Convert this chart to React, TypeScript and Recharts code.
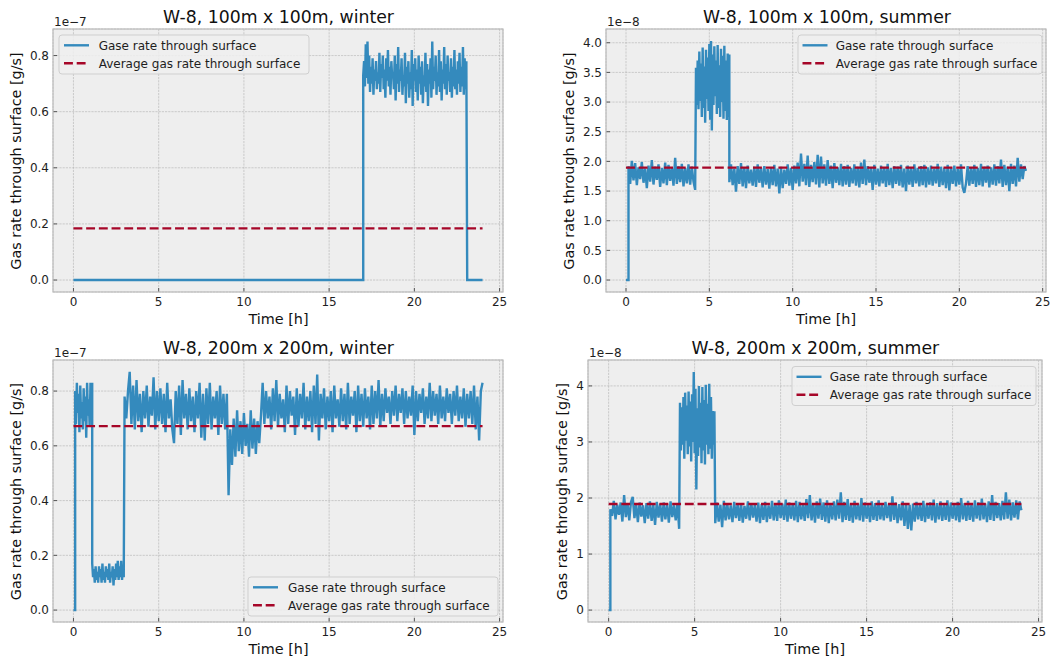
import React from 'react';
import { LineChart, Line, XAxis, YAxis, CartesianGrid } from 'recharts';

const FONT = '"DejaVu Sans", "Liberation Sans", sans-serif';
const BLUE = '#348ABD';
const RED = '#A60628';
const TXT = '#1e1e1e';

const xTicks = [0, 5, 10, 15, 20, 25];
const yTicksW = [0, 0.2, 0.4, 0.6, 0.8];
const yTicksS100 = [0, 0.5, 1.0, 1.5, 2.0, 2.5, 3.0, 3.5, 4.0];
const yTicksS200 = [0, 1, 2, 3, 4];

const titles = [
  'W-8, 100m x 100m, winter',
  'W-8, 100m x 100m, summer',
  'W-8, 200m x 200m, winter',
  'W-8, 200m x 200m, summer',
];
const offsets = ['1e\u22127', '1e\u22128', '1e\u22127', '1e\u22128'];
const legendLabels = ['Gase rate through surface', 'Average gas rate through surface'];
const averages = [0.184, 1.895, 0.672, 1.892];

type Seg = { start: number; step: number; values: number[] };

// ---------- W-8, 100m x 100m, winter (x 1e-7) ----------
const w100Zero1: Seg = { start: 0, step: 17.0, values: [0, 0] };
const w100Band: Seg = {
  start: 17.0,
  step: 0.05,
  values: [
    0.73,
    0.78, 0.69, 0.84, 0.72, 0.85, 0.70, 0.80, 0.67, 0.76, 0.70,
    0.79, 0.66, 0.75, 0.71, 0.78, 0.68, 0.74, 0.70, 0.81, 0.67,
    0.77, 0.72, 0.80, 0.68, 0.75, 0.65, 0.79, 0.71, 0.82, 0.69,
    0.76, 0.66, 0.78, 0.72, 0.74, 0.68, 0.80, 0.64, 0.77, 0.70,
    0.83, 0.67, 0.75, 0.71, 0.79, 0.66, 0.73, 0.69, 0.81, 0.63,
    0.76, 0.70, 0.78, 0.65, 0.74, 0.68, 0.82, 0.62, 0.77, 0.71,
    0.79, 0.67, 0.75, 0.64, 0.80, 0.70, 0.76, 0.66, 0.78, 0.63,
    0.73, 0.69, 0.81, 0.67, 0.77, 0.62, 0.75, 0.70, 0.79, 0.65,
    0.85, 0.68, 0.76, 0.71, 0.80, 0.66, 0.74, 0.69, 0.82, 0.67,
    0.78, 0.64, 0.75, 0.70, 0.83, 0.68, 0.77, 0.66, 0.80, 0.71,
    0.74, 0.67, 0.79, 0.65, 0.76, 0.69, 0.82, 0.68, 0.75, 0.66,
    0.78, 0.70, 0.81, 0.67, 0.76, 0.69, 0.83, 0.66, 0.79, 0.68,
    0.78,
  ],
};
const w100Zero2: Seg = { start: 23.1, step: 0.9, values: [0, 0] };

// ---------- W-8, 100m x 100m, summer (x 1e-8) ----------
const s100Zero: Seg = { start: 0, step: 0.15, values: [0, 0] };
const s100BandA: Seg = {
  start: 0.15,
  step: 0.1,
  values: [
    1.92, 1.62, 2.01, 1.68, 1.97, 1.60, 1.90, 1.70, 1.99, 1.64,
    1.88, 1.55, 1.93, 1.66, 2.02, 1.61, 1.91, 1.69, 1.95, 1.57,
    1.89, 1.63, 1.98, 1.60, 1.94, 1.67, 1.90, 1.59, 2.06, 1.62,
    1.92, 1.65, 1.96, 1.58, 1.89, 1.63, 1.95, 1.61, 1.91, 1.66,
    1.52,
  ],
};
const s100BandB: Seg = {
  start: 4.2,
  step: 0.05,
  values: [
    3.58, 2.95, 3.70, 2.88, 3.85, 3.02, 3.65, 2.75, 3.92, 2.90,
    3.60, 2.65, 3.88, 3.05, 3.75, 2.85, 3.98, 2.70, 4.03, 2.52,
    3.80, 2.95, 3.94, 3.10, 3.70, 2.80, 3.96, 2.90, 3.62, 2.75,
    3.90, 3.00, 3.78, 2.72, 3.95, 2.85, 3.70, 2.70, 3.82, 2.75,
    3.80,
  ],
};
const s100BandC: Seg = {
  start: 6.2,
  step: 0.1,
  values: [
    1.65, 1.95, 1.60, 1.88, 1.49, 1.92, 1.62, 1.97, 1.58, 1.90,
    1.55, 1.93, 1.63, 1.86, 1.59, 1.91, 1.57, 1.95, 1.64, 1.89,
    1.56, 1.92, 1.61, 1.87, 1.54, 1.90, 1.60, 1.94, 1.58, 1.88,
    1.46, 1.91, 1.55, 1.86, 1.62, 1.95, 1.59, 1.89, 1.52, 1.93,
    1.63, 1.98, 1.58, 2.13, 1.66, 1.96, 1.60, 2.10, 1.57, 1.94,
    1.65, 1.99, 1.61, 2.11, 1.56, 2.08, 1.63, 1.95, 1.59, 2.02,
    1.62, 1.93, 1.55, 1.97, 1.64, 1.90, 1.60, 1.96, 1.58, 1.92,
    1.61, 1.94, 1.57, 1.89, 1.63, 1.95, 1.59, 1.91, 1.56, 1.98,
    1.62, 2.03, 1.60, 1.92, 1.64, 1.90, 1.52, 1.94, 1.61, 1.88,
    1.58, 1.93, 1.63, 1.90, 1.57, 1.96, 1.60, 1.89, 1.55, 1.92,
    1.62, 1.91, 1.59, 1.94, 1.56, 1.88, 1.50, 1.93, 1.61, 1.90,
    1.57, 1.95, 1.63, 1.89, 1.58, 1.92, 1.60, 1.94, 1.56, 1.90,
    1.61, 1.93, 1.59, 1.88, 1.63, 1.96, 1.57, 1.91, 1.60, 1.89,
    1.55, 1.94, 1.51, 1.90, 1.62, 1.93, 1.58, 1.88, 1.61, 1.95,
    1.56, 1.47, 1.63, 1.92, 1.59, 1.90, 1.62, 1.94, 1.57, 1.89,
    1.60, 1.96, 1.58, 1.91, 1.64, 1.93, 1.56, 1.90, 1.61, 1.95,
    1.59, 1.92, 1.63, 2.03, 1.57, 1.94, 1.60, 1.91, 1.50, 1.96,
    1.62, 1.93, 1.58, 2.06, 1.66, 1.95, 1.70, 1.92, 1.84,
  ],
};

// ---------- W-8, 200m x 200m, winter (x 1e-7) ----------
const w200Zero: Seg = { start: 0, step: 0.1, values: [0, 0] };
const w200BandA: Seg = {
  start: 0.1,
  step: 0.05,
  values: [
    0.80, 0.68, 0.83, 0.72, 0.79, 0.65, 0.82, 0.70, 0.76, 0.66,
    0.81, 0.69, 0.78, 0.63, 0.83, 0.71, 0.77, 0.67, 0.83, 0.73,
    0.83,
  ],
};
const w200BandB: Seg = {
  start: 1.1,
  step: 0.05,
  values: [
    0.17, 0.12, 0.15, 0.10, 0.16, 0.11, 0.14, 0.10, 0.16, 0.12,
    0.15, 0.10, 0.17, 0.11, 0.14, 0.10, 0.16, 0.12, 0.15, 0.11,
    0.17, 0.10, 0.14, 0.12, 0.16, 0.09, 0.15, 0.11, 0.17, 0.12,
    0.18, 0.11, 0.16, 0.12, 0.18, 0.11, 0.15, 0.12,
  ],
};
const w200BandC: Seg = {
  start: 3.0,
  step: 0.1,
  values: [
    0.78, 0.70, 0.80, 0.87, 0.68, 0.82, 0.66, 0.84, 0.69, 0.79,
    0.65, 0.80, 0.70, 0.82, 0.67, 0.78, 0.71, 0.85, 0.66, 0.80,
    0.69, 0.81, 0.68, 0.79, 0.65, 0.83, 0.70, 0.77, 0.66, 0.61,
    0.80, 0.68, 0.82, 0.64, 0.84, 0.70, 0.79, 0.66, 0.81, 0.69,
    0.78, 0.65, 0.80, 0.70, 0.83, 0.63, 0.79, 0.62, 0.81, 0.68,
    0.83, 0.66, 0.78, 0.70, 0.80, 0.64, 0.82, 0.68, 0.79, 0.66,
    0.79,
  ],
};
const w200BandD: Seg = {
  start: 9.1,
  step: 0.1,
  values: [
    0.42, 0.66, 0.53, 0.70, 0.56, 0.73, 0.58, 0.69, 0.57, 0.72,
    0.60, 0.68, 0.56, 0.73, 0.59, 0.70, 0.57, 0.69, 0.61, 0.71,
  ],
};
const w200BandE: Seg = {
  start: 11.1,
  step: 0.1,
  values: [
    0.83, 0.68, 0.80, 0.70, 0.78, 0.66, 0.81, 0.69, 0.84, 0.67,
    0.79, 0.70, 0.77, 0.65, 0.82, 0.68, 0.80, 0.71, 0.78, 0.64,
    0.81, 0.67, 0.79, 0.70, 0.83, 0.66, 0.78, 0.69, 0.80, 0.65,
    0.82, 0.68, 0.86, 0.62, 0.79, 0.70, 0.81, 0.66, 0.78, 0.69,
    0.80, 0.65, 0.82, 0.70, 0.77, 0.67, 0.81, 0.69, 0.79, 0.66,
    0.83, 0.68, 0.78, 0.71, 0.80, 0.65, 0.82, 0.69, 0.79, 0.67,
    0.81, 0.70, 0.78, 0.66, 0.82, 0.68, 0.80, 0.70, 0.84, 0.67,
    0.79, 0.69, 0.81, 0.72, 0.78, 0.68, 0.80, 0.71, 0.82, 0.69,
    0.79, 0.72, 0.81, 0.68, 0.80, 0.70, 0.78, 0.71, 0.82, 0.64,
    0.80, 0.69, 0.79, 0.72, 0.81, 0.68, 0.78, 0.70, 0.83, 0.69,
    0.80, 0.71, 0.79, 0.68, 0.82, 0.70, 0.78, 0.69, 0.81, 0.72,
    0.79, 0.68, 0.80, 0.71, 0.82, 0.69, 0.78, 0.70, 0.81, 0.67,
    0.79, 0.70, 0.80, 0.68, 0.82, 0.66, 0.78, 0.62, 0.80, 0.83,
  ],
};

// ---------- W-8, 200m x 200m, summer (x 1e-8) ----------
const s200Zero: Seg = { start: 0, step: 0.1, values: [0, 0] };
const s200BandA: Seg = {
  start: 0.1,
  step: 0.1,
  values: [
    1.80, 1.68, 1.95, 1.62, 1.88, 1.70, 1.92, 1.58, 2.05, 1.66,
    1.90, 1.60, 1.93, 2.02, 1.64, 1.89, 1.57, 1.92, 1.67, 1.87,
    1.55, 1.91, 1.63, 1.94, 1.59, 1.88, 1.52, 1.93, 1.65, 1.90,
    1.58, 1.92, 1.62, 1.89, 1.56, 1.94, 1.66, 1.87, 1.60, 1.91,
    1.45,
  ],
};
const s200BandB: Seg = {
  start: 4.15,
  step: 0.05,
  values: [
    3.70, 2.85, 3.62, 2.95, 3.80, 2.70, 3.88, 3.02, 3.65, 2.78,
    3.90, 2.92, 3.72, 2.65, 3.85, 3.00, 4.25, 2.80, 3.95, 2.15,
    3.60, 2.75, 4.00, 2.90, 3.70, 2.62, 3.98, 2.85, 3.75, 2.60,
    4.02, 2.95, 3.68, 2.78, 4.04, 2.88, 3.80, 2.70, 3.55, 2.95,
    3.55,
  ],
};
const s200BandC: Seg = {
  start: 6.2,
  step: 0.1,
  values: [
    1.55, 1.92, 1.58, 1.88, 1.48, 1.95, 1.60, 1.90, 1.62, 1.87,
    1.57, 1.93, 1.64, 1.89, 1.59, 1.91, 1.56, 1.86, 1.63, 1.94,
    1.60, 1.90, 1.65, 1.88, 1.58, 1.92, 1.55, 1.89, 1.61, 1.93,
    1.57, 1.87, 1.63, 1.95, 1.60, 1.91, 1.59, 1.96, 1.64, 1.90,
    1.61, 1.97, 1.58, 1.92, 1.63, 1.89, 1.60, 1.95, 1.57, 1.93,
    1.62, 1.90, 1.59, 1.98, 1.64, 2.05, 1.60, 1.91, 1.56, 1.94,
    1.63, 1.99, 1.61, 1.92, 1.58, 1.96, 1.55, 1.90, 1.62, 1.94,
    1.60, 1.97, 1.63, 2.10, 1.57, 1.93, 1.61, 1.98, 1.59, 1.91,
    1.56, 1.95, 1.62, 1.90, 1.60, 2.00, 1.58, 1.92, 1.63, 1.89,
    1.57, 1.94, 1.61, 1.91, 1.59, 1.96, 1.62, 1.88, 1.60, 1.93,
    1.64, 1.90, 1.58, 2.03, 1.61, 1.92, 1.55, 1.89, 1.60, 1.94,
    1.50, 1.91, 1.45, 1.88, 1.42, 1.90, 1.58, 1.93, 1.62, 1.89,
    1.59, 1.95, 1.57, 1.90, 1.63, 1.92, 1.60, 1.97, 1.56, 1.91,
    1.62, 1.94, 1.59, 1.89, 1.61, 1.96, 1.58, 1.92, 1.63, 1.90,
    1.60, 1.93, 1.57, 2.00, 1.62, 1.91, 1.59, 1.95, 1.61, 1.89,
    1.58, 1.96, 1.63, 1.92, 1.60, 1.99, 1.62, 1.90, 1.57, 1.94,
    1.61, 2.05, 1.59, 1.93, 1.64, 1.91, 1.60, 1.95, 1.62, 2.10,
    1.63, 1.97, 1.60, 1.92, 1.65, 1.96, 1.62, 1.94, 1.78,
  ],
};

const build = (segs: Seg[]) =>
  segs.flatMap((s) => s.values.map((v, i) => ({ t: +(s.start + i * s.step).toFixed(4), v })));

const series = [
  build([w100Zero1, w100Band, w100Zero2]),
  build([s100Zero, s100BandA, s100BandB, s100BandC]),
  build([w200Zero, w200BandA, w200BandB, w200BandC, w200BandD, w200BandE]),
  build([s200Zero, s200BandA, s200BandB, s200BandC]),
];

type Frame = { x: number; y: number; w: number; h: number };
const frames: Frame[] = [
  { x: 53, y: 29, w: 450, h: 263 },
  { x: 606, y: 29, w: 440, h: 263 },
  { x: 53, y: 360, w: 450, h: 262 },
  { x: 588, y: 360, w: 454, h: 262 },
];
const yDomains: [number, number][] = [
  [-0.0426, 0.8946],
  [-0.2015, 4.2315],
  [-0.0435, 0.9135],
  [-0.2125, 4.4625],
];
const yTickSets = [yTicksW, yTicksS100, yTicksW, yTicksS200];
const yFmts = [
  (v: number) => v.toFixed(1),
  (v: number) => v.toFixed(1),
  (v: number) => v.toFixed(1),
  (v: number) => v.toFixed(0),
];

const ML = 50;
const MT = 10;
const MR = 10;
const MB = 30;

function Panel({ idx }: { idx: number }) {
  const f = frames[idx];
  const avgData = [
    { t: 0, v: averages[idx] },
    { t: 24, v: averages[idx] },
  ];
  const tickStyle = { fontSize: 12, fill: TXT, fontFamily: FONT };
  return (
    <div style={{ position: 'absolute', left: f.x - ML, top: f.y - MT }}>
      <LineChart
        width={f.w + ML + MR}
        height={f.h + MT + MB}
        margin={{ top: MT, right: MR, left: 0, bottom: 0 }}
      >
        <CartesianGrid
          fill="#eeeeee"
          stroke="#b2b2b2"
          strokeWidth={0.6}
          strokeDasharray="2.2 1"
        />
        <XAxis
          dataKey="t"
          type="number"
          domain={[-1.2, 25.2]}
          ticks={xTicks}
          allowDataOverflow
          interval={0}
          height={MB}
          axisLine={false}
          tickLine={{ stroke: '#555', strokeWidth: 1 }}
          tickSize={-4}
          tickMargin={9.5}
          tick={tickStyle}
        />
        <YAxis
          dataKey="v"
          type="number"
          domain={yDomains[idx]}
          ticks={yTickSets[idx]}
          allowDataOverflow
          interval={0}
          width={ML}
          axisLine={false}
          tickLine={{ stroke: '#555', strokeWidth: 1 }}
          tickSize={-4}
          tickMargin={8}
          tick={tickStyle}
          tickFormatter={yFmts[idx]}
        />
        <Line
          data={series[idx]}
          dataKey="v"
          type="linear"
          stroke={BLUE}
          strokeWidth={2.4}
          dot={false}
          activeDot={false}
          isAnimationActive={false}
        />
        <Line
          data={avgData}
          dataKey="v"
          type="linear"
          stroke={RED}
          strokeWidth={2.4}
          strokeDasharray="8.9 3.8"
          dot={false}
          activeDot={false}
          isAnimationActive={false}
        />
      </LineChart>
    </div>
  );
}

type Lg = { x: number; y: number; w: number; sx: number; tx: number };
const legends: Lg[] = [
  { x: 59, y: 35, w: 250, sx: 64, tx: 98.7 },
  { x: 798, y: 35, w: 244, sx: 802.5, tx: 835.7 },
  { x: 248, y: 577, w: 250, sx: 253, tx: 288 },
  { x: 792, y: 366.5, w: 244, sx: 796.5, tx: 829.7 },
];
const titlePos = [
  { x: 278.5, y: 22.6 },
  { x: 827, y: 22.6 },
  { x: 278.5, y: 353.6 },
  { x: 815.3, y: 353.8 },
];
const offsetPos = [
  { x: 54, y: 26 },
  { x: 607, y: 26 },
  { x: 54, y: 356.7 },
  { x: 589, y: 356.7 },
];
const yLabelPos = [
  { x: 20.5, y: 161 },
  { x: 573.8, y: 161 },
  { x: 20.5, y: 491.5 },
  { x: 567.2, y: 491.5 },
];
const xLabelPos = [
  { x: 278.5, y: 323.8 },
  { x: 826, y: 323.8 },
  { x: 278.5, y: 653.8 },
  { x: 815, y: 653.8 },
];

function Overlay() {
  return (
    <svg
      width={1063}
      height={662}
      style={{ position: 'absolute', left: 0, top: 0, pointerEvents: 'none' }}
      fontFamily={FONT}
    >
      {frames.map((f, i) => (
        <rect key={'f' + i} x={f.x} y={f.y} width={f.w} height={f.h} fill="none" stroke="#bcbcbc" strokeWidth={1.2} />
      ))}
      {titles.map((t, i) => (
        <text key={'t' + i} x={titlePos[i].x} y={titlePos[i].y} fontSize={17.3} textAnchor="middle" fill="#111">
          {t}
        </text>
      ))}
      {offsets.map((t, i) => (
        <text key={'o' + i} x={offsetPos[i].x} y={offsetPos[i].y} fontSize={12} fill={TXT}>
          {t}
        </text>
      ))}
      {yLabelPos.map((p, i) => (
        <text
          key={'y' + i}
          transform={`translate(${p.x},${p.y}) rotate(-90)`}
          fontSize={14.4}
          textAnchor="middle"
          fill="#111"
        >
          Gas rate through surface [g/s]
        </text>
      ))}
      {xLabelPos.map((p, i) => (
        <text key={'x' + i} x={p.x} y={p.y} fontSize={14.4} textAnchor="middle" fill="#111">
          Time [h]
        </text>
      ))}
      {legends.map((l, i) => {
        const r1 = l.y + 10.3;
        const r2 = l.y + 28.2;
        return (
          <g key={'l' + i}>
            <rect x={l.x} y={l.y} width={l.w} height={39} rx={3} fill="#eeeeee" fillOpacity={0.85} stroke="#cfcfcf" strokeWidth={1} />
            <line x1={l.sx} x2={l.sx + 25} y1={r1} y2={r1} stroke={BLUE} strokeWidth={2.4} />
            <line x1={l.sx} x2={l.sx + 25} y1={r2} y2={r2} stroke={RED} strokeWidth={2.4} strokeDasharray="8.9 3.8" />
            <text x={l.tx} y={r1 + 4.4} fontSize={12} fill={TXT}>
              {legendLabels[0]}
            </text>
            <text x={l.tx} y={r2 + 4.4} fontSize={12} fill={TXT}>
              {legendLabels[1]}
            </text>
          </g>
        );
      })}
    </svg>
  );
}

export default function App() {
  return (
    <div style={{ position: 'absolute', left: 0, top: 0, width: 1063, height: 662, background: '#ffffff', overflow: 'hidden' }}>
      {[0, 1, 2, 3].map((i) => (
        <Panel key={i} idx={i} />
      ))}
      <Overlay />
    </div>
  );
}
